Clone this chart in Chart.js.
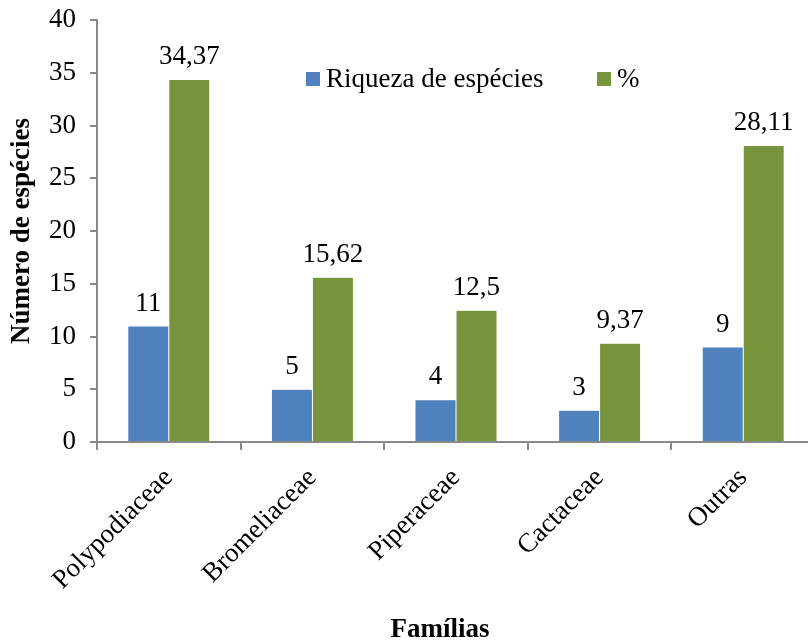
<!DOCTYPE html>
<html>
<head>
<meta charset="utf-8">
<script src="https://cdn.jsdelivr.net/npm/chart.js@4/dist/chart.umd.min.js"></script>
<style>
  html, body { margin: 0; padding: 0; background: #fff; overflow: hidden; }
  #wrap { width: 815px; height: 641px; }
</style>
</head>
<body>
<div id="wrap"><canvas id="barChart"></canvas></div>
<script>
var familias = ['Polypodiaceae', 'Bromeliaceae', 'Piperaceae', 'Cactaceae', 'Outras'];
var riqueza = [11, 5, 4, 3, 9];
var percentual = [34.37, 15.62, 12.5, 9.37, 28.11];
var serieNomes = ['Riqueza de espécies', '%'];
var yTicks = [0, 5, 10, 15, 20, 25, 30, 35, 40];

var fonte = '"Liberation Serif", "Times New Roman", serif';
var axisGray = '#898989';

// escreve o valor de cada barra acima dela, com virgula decimal
var valueLabels = {
    id: 'valueLabels',
    afterDatasetsDraw: function (chart) {
        var ctx = chart.ctx;
        ctx.save();
        ctx.fillStyle = '#000';
        ctx.font = '27px ' + fonte;
        ctx.textAlign = 'center';
        ctx.textBaseline = 'bottom';
        chart.data.datasets.forEach(function (ds, i) {
            chart.getDatasetMeta(i).data.forEach(function (bar, j) {
                var txt = String(ds.data[j]).replace('.', ',');
                ctx.fillText(txt, bar.x, bar.y - 9);
            });
        });
        ctx.restore();
    }
};

// legenda dentro da area do grafico + titulo do eixo x
var extras = {
    id: 'extras',
    afterDraw: function (chart) {
        var ctx = chart.ctx;
        var pos = [306, 597];
        ctx.save();
        ctx.font = '27px ' + fonte;
        ctx.textBaseline = 'middle';
        chart.data.datasets.forEach(function (ds, i) {
            ctx.fillStyle = ds.backgroundColor;
            ctx.fillRect(pos[i], 72, 14, 14);
            ctx.fillStyle = '#000';
            ctx.fillText(ds.label, pos[i] + 20, 80);
        });
        ctx.font = 'bold 27px ' + fonte;
        ctx.textAlign = 'center';
        ctx.textBaseline = 'alphabetic';
        ctx.fillText('Famílias', 440, 637);
        ctx.restore();
    }
};

var ctx = document.getElementById('barChart').getContext('2d');
var barChart = new Chart(ctx, {
    type: 'bar',
    data: {
        labels: familias,
        datasets: [{
            label: serieNomes[0],
            data: riqueza,
            backgroundColor: '#4F81BD',
            borderColor: 'rgba(255,255,255,0.5)',
            borderWidth: 0.5
        }, {
            label: serieNomes[1],
            data: percentual,
            backgroundColor: '#77933C',
            borderColor: 'rgba(255,255,255,0.5)',
            borderWidth: 0.5
        }]
    },
    options: {
        responsive: true,
        maintainAspectRatio: false,
        animation: false,
        layout: { padding: { top: 20, right: 0, left: 0, bottom: 0 } },
        categoryPercentage: 0.571,
        barPercentage: 1,
        plugins: {
            legend: { display: false },
            tooltip: { enabled: false }
        },
        scales: {
            x: {
                afterFit: function (s) {
                    s.height = 199;
                    s.paddingLeft = 0;
                    s.paddingRight = 0;
                },
                border: { color: axisGray, width: 2 },
                grid: { drawOnChartArea: false, color: axisGray, tickLength: 8, lineWidth: 2 },
                ticks: {
                    color: '#000',
                    font: { family: fonte, size: 27 },
                    minRotation: 45,
                    maxRotation: 45,
                    padding: 12
                }
            },
            y: {
                min: 0,
                max: 40,
                afterFit: function (s) {
                    s.width = 97;
                    s.paddingTop = 0;
                    s.paddingBottom = 0;
                },
                afterBuildTicks: function (s) {
                    s.ticks = yTicks.map(function (v) { return { value: v }; });
                },
                border: { color: axisGray, width: 2 },
                grid: { drawOnChartArea: false, color: axisGray, tickLength: 7, lineWidth: 2 },
                ticks: {
                    color: '#000',
                    font: { family: fonte, size: 27 },
                    padding: 14
                },
                title: {
                    display: true,
                    text: 'Número de espécies',
                    color: '#000',
                    font: { family: fonte, size: 27, weight: 'bold' },
                    padding: { top: 6, bottom: 0 }
                }
            }
        }
    },
    plugins: [valueLabels, extras]
});
</script>
</body>
</html>
